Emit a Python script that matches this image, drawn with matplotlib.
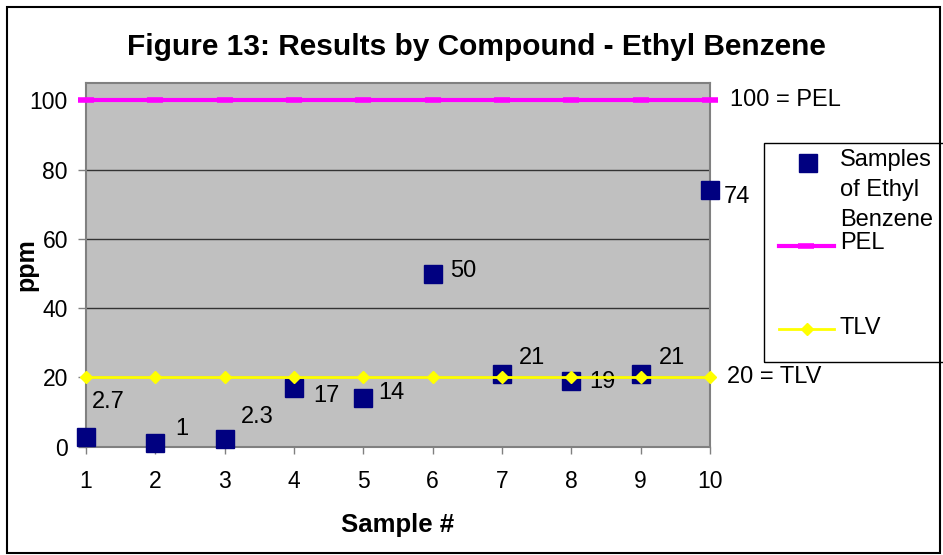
import numpy as np
import matplotlib.pyplot as plt
from matplotlib.lines import Line2D
from matplotlib.patches import Rectangle

plt.rcParams['font.family'] = ['Liberation Sans', 'DejaVu Sans']

samples = [1, 2, 3, 4, 5, 6, 7, 8, 9, 10]
ethyl_benzene = [2.7, 1, 2.3, 17, 14, 50, 21, 19, 21, 74]
pel = [100] * 10
tlv = [20] * 10
value_labels = ['2.7', '1', '2.3', '17', '14', '50', '21', '19', '21', '74']
y_ticks = [0, 20, 40, 60, 80, 100]

# label offsets in pixels (as excel placed them)
label_offsets = [(6, 35), (20, 14), (16, 22), (19, -8), (15, 5),
                 (17, 3), (17, 16), (18, -1), (18, 16), (14, -7)]

fig = plt.figure(figsize=(9.43, 5.55), dpi=100)
ax = fig.add_axes([0.0912, 0.1951, 0.6617, 0.6554])
ax.set_facecolor('#C0C0C0')

ax.plot(samples, pel, color='#FF00FF', lw=3, marker='_', ms=12, mew=4,
        clip_on=False, zorder=3)
ax.plot(samples, tlv, color='#FFFF00', lw=2, marker='D', ms=6.6,
        mec='#FFFF00', clip_on=False, zorder=5)
ax.plot(samples, ethyl_benzene, ls='none', marker='s', ms=13, color='#000080',
        clip_on=False, zorder=4)

fs = 17
for x, y, lab, off in zip(samples, ethyl_benzene, value_labels, label_offsets):
    ax.annotate(lab, (x, y), xytext=off, textcoords='offset pixels',
                ha='left', va='center', fontsize=fs, annotation_clip=False)

ax.annotate('100 = PEL', (samples[-1], pel[-1]), xytext=(20, 0),
            textcoords='offset pixels', ha='left', va='center', fontsize=fs,
            annotation_clip=False)
ax.annotate('20 = TLV', (samples[-1], tlv[-1]), xytext=(17, 0),
            textcoords='offset pixels', ha='left', va='center', fontsize=fs,
            annotation_clip=False)

ax.set_xlim(1, 10)
ax.set_ylim(0, 105)
ax.set_xticks(samples)
ax.set_yticks(y_ticks)
ax.yaxis.grid(True, color='#333333', lw=1)
ax.set_axisbelow(True)
ax.tick_params(axis='x', length=5, width=1, color='#808080', pad=12, labelsize=16.5)
ax.tick_params(axis='y', length=6, width=1, color='#808080', pad=7, labelsize=16.5)
for s in ax.spines.values():
    s.set_color('#808080')
    s.set_linewidth(1.5)

ax.set_xlabel('Sample #', fontsize=18.5, fontweight='bold', labelpad=14)
ax.set_ylabel('ppm', fontsize=18, fontweight='bold', labelpad=-6)
fig.text(0.505, 0.915, 'Figure 13: Results by Compound - Ethyl Benzene',
         ha='center', va='center', fontsize=21.5, fontweight='bold')

# legend box, drawn in figure pixels
W, H = 943, 555
def fx(px):
    return px / W
def fy(py):
    return 1 - py / H

fig.patches.append(Rectangle((fx(764), fy(362)), fx(960) - fx(764), fy(143) - fy(362),
                             transform=fig.transFigure, fill=False, ec='black', lw=1))
fig.lines.append(Line2D([fx(808)], [fy(163)], transform=fig.transFigure, ls='none',
                        marker='s', ms=13, color='#000080'))
fig.lines.append(Line2D([fx(779), fx(806), fx(834)], [fy(246)] * 3, transform=fig.transFigure,
                        color='#FF00FF', lw=3, marker='_', ms=12, mew=4, markevery=[1]))
fig.lines.append(Line2D([fx(779), fx(807), fx(834)], [fy(329)] * 3, transform=fig.transFigure,
                        color='#FFFF00', lw=2, marker='D', ms=6.6, markevery=[1]))
fig.text(fx(840), fy(160), 'Samples', ha='left', va='center', fontsize=fs)
fig.text(fx(840), fy(190), 'of Ethyl', ha='left', va='center', fontsize=fs)
fig.text(fx(840), fy(220), 'Benzene', ha='left', va='center', fontsize=fs)
fig.text(fx(840), fy(243), 'PEL', ha='left', va='center', fontsize=fs)
fig.text(fx(840), fy(328), 'TLV', ha='left', va='center', fontsize=fs)

# outer chart border
fig.patches.append(Rectangle((fx(7), fy(553)), fx(940) - fx(7), fy(7) - fy(553),
                             transform=fig.transFigure, fill=False, ec='black', lw=1.5))

fig.savefig('out.png', dpi=100)
